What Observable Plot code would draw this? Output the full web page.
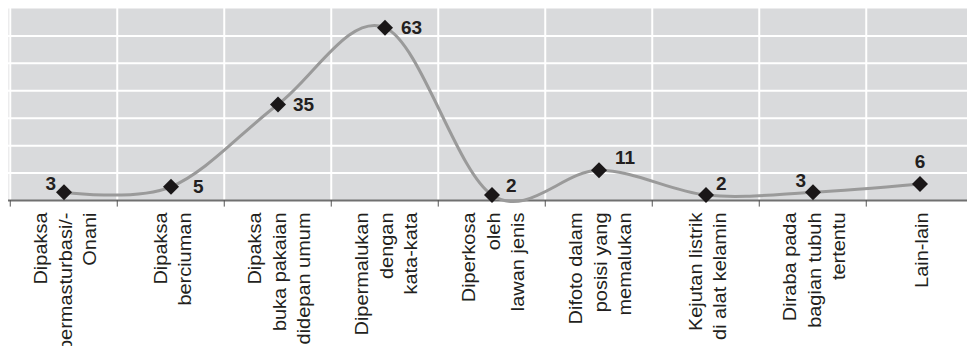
<!DOCTYPE html>
<html>
<head>
<meta charset="utf-8">
<script src="https://cdn.jsdelivr.net/npm/d3@7"></script>
<script src="https://cdn.jsdelivr.net/npm/@observablehq/plot@0.6"></script>
<style>
  html, body { margin: 0; padding: 0; background: #fff; }
  #chart svg { display: block; }
</style>
</head>
<body>
<div id="chart"></div>
<script>
const categories = [
  "Dipaksa\nbermasturbasi/-\nOnani",
  "Dipaksa\nberciuman",
  "Dipaksa\nbuka pakaian\ndidepan umum",
  "Dipermalukan\ndengan\nkata-kata",
  "Diperkosa\noleh\nlawan jenis",
  "Difoto dalam\nposisi yang\nmemalukan",
  "Kejutan listrik\ndi alat kelamin",
  "Diraba pada\nbagian tubuh\ntertentu",
  "Lain-lain"
];
const values = [3, 5, 35, 63, 2, 11, 2, 3, 6];
const yGrid = [10, 20, 30, 40, 50, 60];
const yDomain = [0, 70];

const data = categories.map((c, i) => ({cat: c, value: values[i], i}));

const W = 967, H = 346;
const x0 = 8, x1 = 975.5;
const bw = (x1 - x0) / categories.length;

function valueLabel(idx, opts) {
  return Plot.text(data.filter(d => d.i === idx), {
    x: "cat", y: "value", text: d => String(d.value),
    fontSize: 19, fontWeight: "bold", fill: "#231f20", ...opts
  });
}

const chart = Plot.plot({
  width: W,
  height: H,
  marginLeft: x0,
  marginRight: 0,
  marginTop: 8,
  marginBottom: 146,
  style: {fontFamily: "'Liberation Sans', Arial, sans-serif", background: "#fff"},
  x: {type: "band", domain: categories, range: [x0, x1], padding: 0, axis: null},
  y: {domain: yDomain, axis: null},
  marks: [
    Plot.frame({fill: "#d9dadc", stroke: "none"}),
    Plot.ruleY(yGrid, {stroke: "#fff", strokeWidth: 2}),
    Plot.ruleX(categories, {x: d => d, dx: -bw / 2, stroke: "#fff", strokeWidth: 2}),
    Plot.ruleY([0], {stroke: "#707070", strokeWidth: 2}),
    Plot.ruleX(categories, {x: d => d, dx: -bw / 2, y1: 0, y2: -2.4, stroke: "#555", strokeWidth: 1}),
    Plot.line(data, {x: "cat", y: "value", curve: "cardinal", stroke: "#9a9a9a", strokeWidth: 3}),
    Plot.dot(data, {x: "cat", y: "value", symbol: "diamond2", r: 7.2, fill: "#1a1718", stroke: "none"}),
    valueLabel(0, {textAnchor: "end", dx: -8, dy: -8}),
    valueLabel(1, {textAnchor: "start", dx: 22, dy: 0}),
    valueLabel(2, {textAnchor: "start", dx: 15, dy: 0}),
    valueLabel(3, {textAnchor: "start", dx: 16, dy: 0}),
    valueLabel(4, {textAnchor: "start", dx: 14, dy: -9}),
    valueLabel(5, {textAnchor: "start", dx: 16, dy: -12}),
    valueLabel(6, {textAnchor: "start", dx: 10, dy: -11}),
    valueLabel(7, {textAnchor: "end", dx: -7, dy: -11}),
    valueLabel(8, {textAnchor: "middle", dx: 0, dy: -22}),
    Plot.text(data, {
      x: "cat", frameAnchor: "bottom", text: "cat",
      rotate: -90, textAnchor: "end", lineAnchor: "middle",
      lineHeight: 1.28, fontSize: 19, fill: "#231f20", dy: 12
    })
  ]
});
// stretch category labels slightly along their reading direction
const groups = chart.querySelectorAll("g[aria-label='text']");
const labelGroup = groups[groups.length - 1];
labelGroup.querySelectorAll("text").forEach(t => {
  t.setAttribute("transform", t.getAttribute("transform") + " scale(1.05,1)");
});
document.getElementById("chart").appendChild(chart);
</script>
</body>
</html>
